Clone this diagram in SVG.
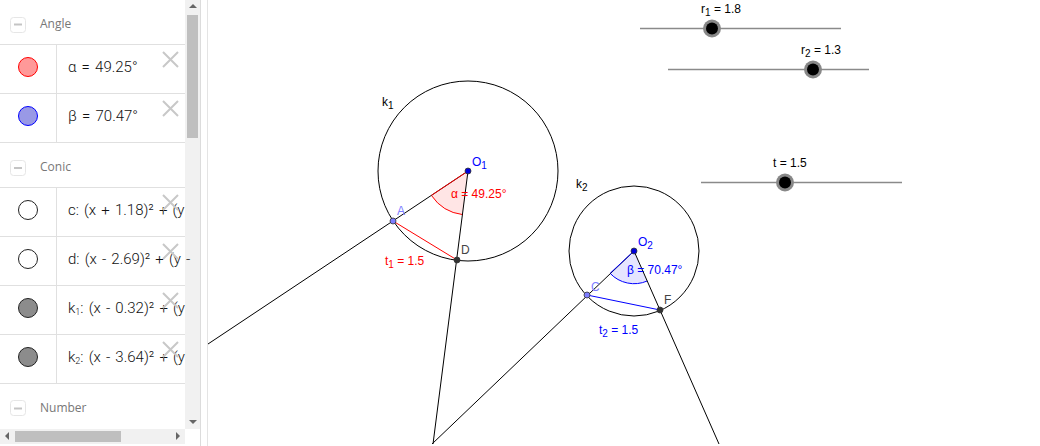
<svg xmlns="http://www.w3.org/2000/svg" width="1040" height="446" viewBox="0 0 1040 446">
<style>
.h{font:12px "Open Sans","Noto Sans",sans-serif;fill:#777}
.m2{font:300 15px Roboto,"Noto Sans",sans-serif;fill:#111;word-spacing:1.5px}
.rl{stroke:#e0e0e0;stroke-width:1;fill:none}
.x{stroke:#c8c8c8;stroke-width:2;fill:none}
.box{fill:#fff;stroke:#e6e6e6;stroke-width:1}
.dash{stroke:#c4c4c4;stroke-width:2}
.g{font:12px "Liberation Sans",Arial,sans-serif;fill:#000}
.s{font-size:10px}
.l{stroke:#000;stroke-width:1;fill:none}
.track{stroke:#8a8a8a;stroke-width:1.6;fill:none}
.knobo{fill:#888}
.knobi{fill:#000}
.pt{stroke:#333;stroke-width:.8}
</style>
<rect width="1040" height="446" fill="#fff"/>
<g id="panel">
<rect x="185" y="0" width="15" height="429" fill="#f1f1f1"/>
<rect x="0" y="429" width="185" height="15" fill="#f1f1f1"/>
<path d="M200.500 0V446" stroke="#dcdcdc"/>
<path d="M207.500 0V446" stroke="#e4e4e4"/>
<rect x="187" y="15" width="11" height="123" fill="#bfbfbf"/>
<path d="M189 8h8l-4-4z M189 420h8l-4 4z" fill="#666"/>
<rect x="15" y="431" width="106" height="11" fill="#bfbfbf"/>
<path d="M9 432v8l-4-4zM176 432v8l4-4z" fill="#666"/>
<path class="rl" d="M0 44.500H185M0 93.500H185M0 142.500H185M0 187.500H185M0 236.500H185M0 285.500H185M0 334.500H185M0 383.500H185"/>
<path class="rl" d="M56.500 44.500V142.500M56.500 187.500V383.500"/>
</g>
<g id="group-angle">
<rect class="box" x="10.500" y="17.500" width="15" height="15" rx="3"/><path class="dash" d="M14 24.500H22"/>
<text class="h" x="40" y="28">Angle</text>
</g>
<g id="row-alpha">
<circle cx="28" cy="67" r="9.500" fill="#ff9999" stroke="#f00"/>
<text class="m2" x="68" y="72">α = 49.25°</text>
<path class="x" d="M163 52L178 67M178 52L163 67"/>
</g>
<g id="row-beta">
<circle cx="28" cy="116" r="9.500" fill="#9999e6" stroke="#00f"/>
<text class="m2" x="68" y="121">β = 70.47°</text>
<path class="x" d="M163 101L178 116M178 101L163 116"/>
</g>
<g id="group-conic">
<rect class="box" x="10.500" y="160.500" width="15" height="15" rx="3"/><path class="dash" d="M14 168H22"/>
<text class="h" x="40" y="171">Conic</text>
</g>
<g id="row-c">
<circle cx="28" cy="210" r="9.500" fill="#fff" stroke="#222"/>
<text class="m2" x="68" y="215">c: (x + 1.18)² + (y</text>
<path class="x" d="M163 195L178 210M178 195L163 210"/>
</g>
<g id="row-d">
<circle cx="28" cy="259" r="9.500" fill="#fff" stroke="#222"/>
<text class="m2" x="68" y="264">d: (x - 2.69)² + (y -</text>
<path class="x" d="M163 244L178 259M178 244L163 259"/>
</g>
<g id="row-k1">
<circle cx="28" cy="308" r="9.500" fill="#8c8c8c" stroke="#222"/>
<text class="m2" x="68" y="313">k<tspan font-size="9" dy="2">1</tspan><tspan dy="-2">: (x - 0.32)² + (y</tspan></text>
<path class="x" d="M163 293L178 308M178 293L163 308"/>
</g>
<g id="row-k2">
<circle cx="28" cy="357" r="9.500" fill="#8c8c8c" stroke="#222"/>
<text class="m2" x="68" y="362">k<tspan font-size="9" dy="2">2</tspan><tspan dy="-2">: (x - 3.64)² + (y</tspan></text>
<path class="x" d="M163 342L178 357M178 342L163 357"/>
</g>
<g id="group-number">
<rect class="box" x="10.500" y="400.500" width="15" height="15" rx="3"/><path class="dash" d="M14 408.500H22"/>
<text class="h" x="40" y="412">Number</text>
</g>
<g id="connectors">
<path d="M468 171L431.400 195.400A44 44 0 0 0 462.600 214.600Z" fill="#ff0000" fill-opacity=".1"/>
<path d="M431.400 195.400A44 44 0 0 0 462.600 214.600" stroke="#f00" fill="none"/>
<path d="M634 251L610.100 273.300A33 33 0 0 0 647.200 281Z" fill="#0000ff" fill-opacity=".1"/>
<path d="M610.100 273.300A33 33 0 0 0 647.200 281" stroke="#00f" fill="none"/>
<path class="l" d="M468 171L208 344"/>
<path class="l" d="M468 171L433 444"/>
<path class="l" d="M634 251L432 444"/>
<path class="l" d="M634 251L719 444"/>
<path d="M468 171L431.400 195.400M393 221L457 260" stroke="#f00" fill="none"/>
<path d="M634 251L610.100 273.300M587 295L660 310" stroke="#00f" fill="none"/>
</g>
<g id="k1"><circle class="l" cx="468" cy="171" r="90"/><text class="g" x="382" y="106">k<tspan class="s" dy="3">1</tspan></text></g>
<g id="k2"><circle class="l" cx="634" cy="251" r="65"/><text class="g" x="576" y="188">k<tspan class="s" dy="3">2</tspan></text></g>
<g id="O1"><circle class="pt" cx="468" cy="171" r="3" fill="#00d"/><text class="g" x="472" y="166" style="fill:#00f">O<tspan class="s" dy="3">1</tspan></text></g>
<g id="A"><circle class="pt" cx="393" cy="221" r="3" fill="#7d7dff"/><text class="g" x="397" y="215" style="fill:#7d7dff">A</text></g>
<g id="D"><circle class="pt" cx="457" cy="260" r="3" fill="#333"/><text class="g" x="461" y="254" style="fill:#444">D</text></g>
<g id="O2"><circle class="pt" cx="634" cy="251" r="3" fill="#00d"/><text class="g" x="638" y="246" style="fill:#00f">O<tspan class="s" dy="3">2</tspan></text></g>
<g id="C"><circle class="pt" cx="587" cy="295" r="3" fill="#7d7dff"/><text class="g" x="591" y="291" style="fill:#7d7dff">C</text></g>
<g id="F"><circle class="pt" cx="660" cy="310" r="3" fill="#333"/><text class="g" x="664" y="304" style="fill:#444">F</text></g>
<g id="labels">
<text class="g" x="451" y="198" style="fill:#f00">α = 49.25°</text>
<text class="g" x="385" y="265" style="fill:#f00">t<tspan class="s" dy="3">1</tspan><tspan dy="-3"> = 1.5</tspan></text>
<text class="g" x="627" y="274" style="fill:#00f">β = 70.47°</text>
<text class="g" x="599" y="334" style="fill:#00f">t<tspan class="s" dy="3">2</tspan><tspan dy="-3"> = 1.5</tspan></text>
</g>
<g id="slider-r1"><path class="track" d="M640 28.500H841"/><circle class="knobo" cx="712" cy="28.500" r="9"/><circle class="knobi" cx="712" cy="28.500" r="6"/><text class="g" x="701" y="13">r<tspan class="s" dy="3">1</tspan><tspan dy="-3"> = 1.8</tspan></text></g>
<g id="slider-r2"><path class="track" d="M668 69.500H869"/><circle class="knobo" cx="813" cy="69.500" r="9"/><circle class="knobi" cx="813" cy="69.500" r="6"/><text class="g" x="801" y="54">r<tspan class="s" dy="3">2</tspan><tspan dy="-3"> = 1.3</tspan></text></g>
<g id="slider-t"><path class="track" d="M701 182.500H902"/><circle class="knobo" cx="785" cy="182.500" r="9"/><circle class="knobi" cx="785" cy="182.500" r="6"/><text class="g" x="773" y="167">t = 1.5</text></g>
</svg>
